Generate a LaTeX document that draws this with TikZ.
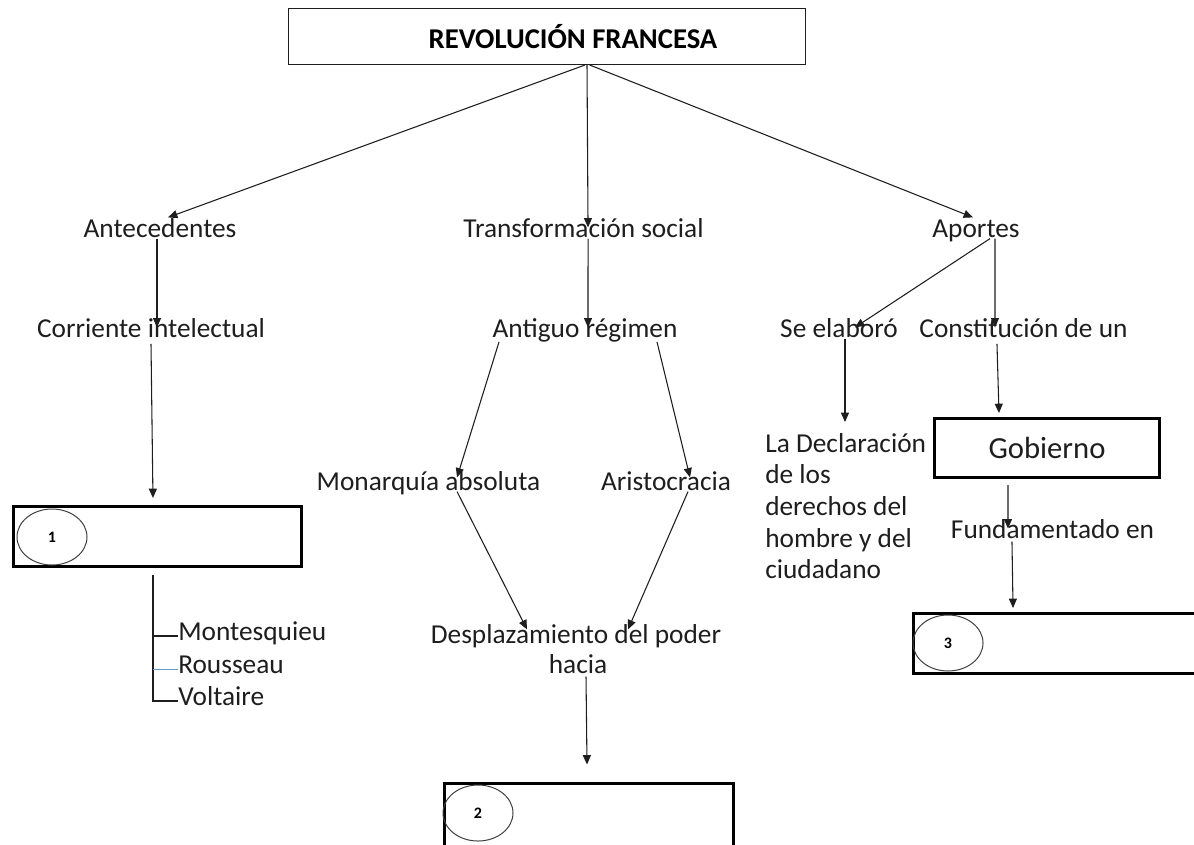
\documentclass[tikz,border=0pt]{standalone}
\usepackage{fontspec}
\setmainfont{Carlito}
\usetikzlibrary{arrows.meta,shapes.geometric}
\definecolor{ink}{HTML}{1E1E1E}
\definecolor{lineblue}{HTML}{5B9BD5}
\tikzset{
  lbl/.style={font=\fontsize{20.5pt}{23.7pt}\selectfont, text=ink, inner sep=0pt, anchor=base, text height=0.7em, text depth=0.1em},
  lblw/.style={lbl, anchor=base west},
  arr/.style={draw=ink, line width=0.8pt, -{Triangle[length=7pt,width=6pt]}},
  thickbox/.style={draw=black, line width=2.25pt, inner sep=0pt},
  numell/.style={ellipse, draw=black!75, line width=0.75pt, minimum width=52.5pt, minimum height=42pt, inner sep=0pt, font=\fontsize{12pt}{14pt}\selectfont\bfseries},
}
\begin{document}
\begin{tikzpicture}[x=0.75pt,y=-0.75pt]
\clip (0,0) rectangle (1194,844);
\fill[white] (0,0) rectangle (1194,844);
% title
\node[draw=ink, line width=0.75pt, minimum width=387.75pt, minimum height=42pt, inner sep=0pt,
  font=\fontsize{21.5pt}{24pt}\selectfont\bfseries, text=black] (title) at (547,36.5) {\hspace{39pt}REVOLUCIÓN FRANCESA};
% level 1
\node[lbl] (ant) at (160,237) {Antecedentes};
\node[lbl] (trans) at (583.5,237) {Transformación social};
\node[lbl] (apo) at (976,237) {Aportes};
% level 2
\node[lbl] (corr) at (151,337) {Corriente intelectual};
\node[lbl] (antig) at (585,337) {Antiguo régimen};
\node[lbl] (seel) at (839,337) {Se elaboró};
\node[lbl] (const) at (1023.5,337) {Constitución de un};
% middle
\node[lbl] (mon) at (428.5,490) {Monarquía absoluta};
\node[lbl] (arist) at (666,490) {Aristocracia};
\node[lbl] (desp) at (576,643) {Desplazamiento del poder};
\node[lbl] (desph) at (578,673) {hacia};
% declaration
\node[font=\fontsize{20.5pt}{23.7pt}\selectfont, text=ink, inner sep=0pt, anchor=north west, align=left] (decl) at (765,433)
  {La Declaración\\de los\\derechos del\\hombre y del\\ciudadano};
% gobierno
\node[thickbox, minimum width=168.75pt, minimum height=44.25pt, font=\fontsize{23pt}{26pt}\selectfont, text=ink] (gob) at (1047,448) {Gobierno};
\node[lbl] (fund) at (1052.5,538) {Fundamentado en};
% boxes
\node[thickbox, minimum width=216pt, minimum height=45pt] (box1) at (157.5,536.5) {};
\node[numell] (e1) at (52,537) {1};
\node[thickbox, minimum width=216.75pt, minimum height=49.5pt] (box2) at (589,816) {};
\node[numell] (e2) at (478,813) {2};
\node[thickbox, minimum width=218.25pt, minimum height=45pt] (box3) at (1058.5,643.5) {};
\node[numell] (e3) at (948,643) {3};
% philosophers
\node[lblw] (mont) at (178,640) {Montesquieu};
\node[lblw] (rous) at (178,673) {Rousseau};
\node[lblw] (volt) at (178,705) {Voltaire};
\coordinate (brtop) at (153,575);
\draw[ink, line width=1.3pt] (brtop) -- (brtop |- volt.west) -- (volt.west);
\draw[ink, line width=1.3pt] (brtop |- mont.west) -- (mont.west);
\draw[lineblue, line width=0.6pt] (brtop |- rous.west) -- (rous.west);
% arrows
\draw[arr] ([xshift=28.5pt]title.south) -- ([xshift=6pt,yshift=7.5pt]ant.north);
\draw[arr] ([xshift=30pt]title.south) -- ([xshift=3.4pt]trans.north);
\draw[arr] ([xshift=32pt]title.south) -- ([xshift=-2.25pt,yshift=7.5pt]apo.north);
\draw[arr] ([xshift=-2.25pt]ant.south) -- ([xshift=4.5pt]corr.north);
\draw[arr] ([yshift=-4pt]corr.south) -- ([xshift=-3.4pt,yshift=5.25pt]box1.north);
\draw[arr] ([xshift=3.4pt]trans.south) -- ([xshift=2.25pt]antig.north);
\draw[arr] ([xshift=-64.5pt,yshift=-2.5pt]antig.south) -- ([xshift=21.4pt,yshift=2.25pt]mon.north);
\draw[arr] ([xshift=54pt,yshift=-2.5pt]antig.south) -- ([xshift=18pt,yshift=2.25pt]arist.north);
\draw[arr] ([xshift=21.4pt]mon.south) -- ([xshift=-36.75pt,yshift=3pt]desp.north);
\draw[arr] ([xshift=16.5pt]arist.south) -- ([xshift=39pt,yshift=3pt]desp.north);
\draw[arr] ([xshift=6pt,yshift=-1.5pt]desph.south) -- ([xshift=-1.5pt,yshift=12.75pt]box2.north);
\draw[arr] ([xshift=10.5pt]apo.south) -- ([xshift=12pt]seel.north);
\draw[arr] ([xshift=14.25pt]apo.south) -- ([xshift=-21.4pt]const.north);
\draw[arr] ([xshift=4.5pt]seel.south) -- ([xshift=60pt,yshift=8.25pt]decl.north west);
\draw[arr] ([xshift=-19.9pt,yshift=-4pt]const.south) -- ([xshift=-36pt,yshift=3pt]gob.north);
\draw[arr] ([xshift=-29.25pt,yshift=-4.5pt]gob.south) -- ([xshift=-33.4pt]fund.north);
\draw[arr] ([xshift=-30.4pt,yshift=-1.5pt]fund.south) -- ([xshift=-34.1pt,yshift=3pt]box3.north);
\end{tikzpicture}
\end{document}
